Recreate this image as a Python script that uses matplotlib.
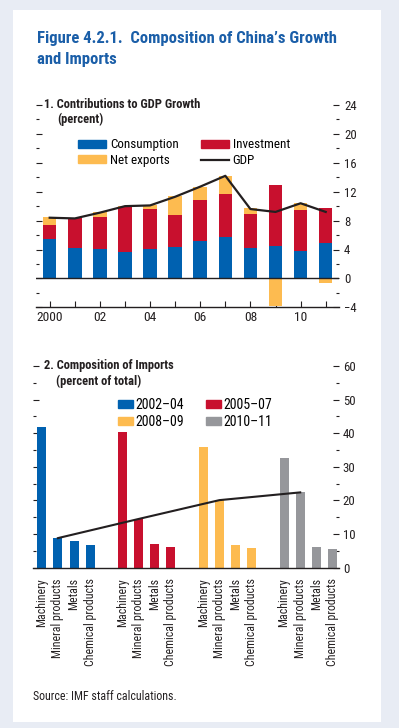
import matplotlib
matplotlib.use("Agg")
import matplotlib.pyplot as plt
from matplotlib.patches import Rectangle, Patch
from matplotlib.lines import Line2D
from matplotlib.ticker import MultipleLocator
from matplotlib import font_manager
from matplotlib.font_manager import FontProperties
import os

# ---------------- data ----------------
years = list(range(2000, 2012))
year_labels = ["2000", "", "02", "", "04", "", "06", "", "08", "", "10", ""]
consumption = [5.5, 4.2, 4.1, 3.6, 4.1, 4.4, 5.2, 5.7, 4.2, 4.5, 3.8, 4.9]
investment = [1.95, 4.1, 4.4, 6.3, 5.5, 4.4, 5.6, 6.0, 4.7, 8.4, 5.6, 4.9]
net_exports = [1.0, 0.0, 0.7, 0.1, 0.5, 2.6, 1.9, 2.5, 0.8, -3.8, 1.1, -0.6]
gdp = [8.4, 8.3, 9.1, 10.0, 10.1, 11.3, 12.7, 14.2, 9.6, 9.2, 10.4, 9.2]

periods = ["2002\u201304", "2005\u201307", "2008\u201309", "2010\u201311"]
products = ["Machinery", "Mineral products", "Metals", "Chemical products"]
machinery = [41.8, 40.4, 35.9, 32.6]
mineral = [8.8, 14.5, 20.1, 22.4]
metals = [7.9, 7.0, 6.8, 6.2]
chemical = [6.8, 6.2, 5.9, 5.6]

# ---------------- fonts ----------------
files = [f.fname for f in font_manager.fontManager.ttflist]


def find(keys_list):
    for keys in keys_list:
        for p in files:
            b = os.path.basename(p).lower()
            if all(k in b for k in keys[0]) and not any(k in b for k in keys[1]):
                return p
    return None


REG = find([(["liberationsansnarrow-regular"], []),
            (["robotocondensed-regular"], []),
            (["dejavusanscondensed."], []),
            (["dejavusanscondensed.ttf"], [])])
BOLD = find([(["liberationsansnarrow-bold."], ["italic"]),
             (["liberationsansnarrow-bold"], ["italic"]),
             (["robotocondensed-bold."], []),
             (["dejavusanscondensed-bold."], [])])
plt.rcParams["font.family"] = ["Liberation Sans", "DejaVu Sans"]


def fp(size, bold=False):
    path = BOLD if bold else REG
    if path:
        return FontProperties(fname=path, size=size)
    return FontProperties(family="Liberation Sans", size=size * 0.9,
                          weight="bold" if bold else "normal")


plt.rcParams["axes.unicode_minus"] = True

BLUE = "#0061b0"
RED = "#c8102e"
YELLOW = "#fdbb50"
GRAY = "#96979b"
BG = "#e8ecf4"
TXT = "#231f20"
TITLE_BLUE = "#1a5ea8"

W, H = 399, 728
fig = plt.figure(figsize=(W / 100, H / 100), dpi=100, facecolor=BG)
fig.patches.append(Rectangle((13 / W, 1 - 722 / H), (381 - 13) / W, (722 - 10) / H,
                             transform=fig.transFigure, facecolor="white",
                             edgecolor="none", zorder=-10))


def ftext(px, py, s, **kw):
    return fig.text(px / W, 1 - py / H, s, **kw)


ftext(37, 49.3, "Figure 4.2.1.  Composition of China\u2019s Growth\nand Imports",
      color=TITLE_BLUE, fontproperties=fp(12, True), va="center", ha="left",
      linespacing=1.5)


def ax_rect(l, r, t, b):
    return [l / W, 1 - b / H, (r - l) / W, (b - t) / H]


def style_axes(ax, pad):
    ax.set_facecolor("none")
    for s in ["left", "right", "top"]:
        ax.spines[s].set_visible(False)
    ax.spines["bottom"].set_color(TXT)
    ax.spines["bottom"].set_linewidth(1.0)
    ax.tick_params(axis="y", which="both", left=True, right=True, labelleft=False,
                   labelright=True, direction="in", colors=TXT, pad=pad)
    ax.tick_params(axis="y", which="major", length=4.3, width=0.8)
    ax.tick_params(axis="y", which="minor", length=2.4, width=0.8)


def set_tick_fonts(ax, ysize, xsize):
    for lab in ax.get_yticklabels():
        lab.set_fontproperties(fp(ysize))
        lab.set_color(TXT)
    for lab in ax.get_xticklabels():
        lab.set_fontproperties(fp(xsize))
        lab.set_color(TXT)


# ---------------- panel 1 ----------------
ax1 = fig.add_axes(ax_rect(36, 339, 105, 307.3))
style_axes(ax1, 3.6)
x = list(range(len(years)))
bw = 0.54
ax1.bar(x, consumption, bw, color=BLUE, zorder=2)
ax1.bar(x, investment, bw, bottom=consumption, color=RED, zorder=2)
nx_bottom = [c + i if n >= 0 else 0 for c, i, n in zip(consumption, investment, net_exports)]
ax1.bar(x, net_exports, bw, bottom=nx_bottom, color=YELLOW, zorder=2)
ax1.plot(x, gdp, color=TXT, lw=1.6, zorder=3)
ax1.axhline(0, color=TXT, lw=1.0, zorder=4)
ax1.set_ylim(-4, 24)
ax1.set_xlim(-0.546, 11.53)
ax1.yaxis.set_major_locator(MultipleLocator(4))
ax1.yaxis.set_minor_locator(MultipleLocator(2))
ax1.set_xticks(x)
ax1.set_xticklabels(year_labels)
ax1.tick_params(axis="x", direction="in", length=4, width=0.8, colors=TXT, pad=3)
set_tick_fonts(ax1, 9.2, 9.6)

ftext(43.5, 105, "1. Contributions to GDP Growth", fontproperties=fp(9, True),
      color=TXT, va="center", ha="left")
ftext(57, 119.5, "(percent)", fontproperties=fp(9, True),
      color=TXT, va="center", ha="left")

h1 = [Patch(color=BLUE), Patch(color=YELLOW), Patch(color=RED), Line2D([], [], color=TXT, lw=1.6)]
l1 = ["Consumption", "Net exports", "Investment", "GDP"]
ax1.legend(h1, l1, ncol=2, loc="upper left", bbox_to_anchor=(42 / 303, 0.835),
           frameon=False, prop=fp(9.4), handlelength=2.14, handleheight=0.55,
           handletextpad=0.3, columnspacing=1.7, labelspacing=0.2, borderpad=0,
           borderaxespad=0)

# ---------------- panel 2 ----------------
ax2 = fig.add_axes(ax_rect(33, 339.3, 366, 567.7))
style_axes(ax2, 2.5)
colors = [BLUE, RED, YELLOW, GRAY]
pos_all, lab_all = [], []
mineral_pos = []
bw2 = 0.56
for g in range(4):
    vals = [machinery[g], mineral[g], metals[g], chemical[g]]
    pos = [g * 5 + k for k in range(4)]
    ax2.bar(pos, vals, bw2, color=colors[g], zorder=2, label=periods[g])
    pos_all += pos
    lab_all += products
    mineral_pos.append(pos[1])
ax2.plot(mineral_pos, mineral, color=TXT, lw=1.5, zorder=3)
ax2.set_ylim(0, 60)
ax2.set_xlim(-0.54, 18.42)
ax2.yaxis.set_major_locator(MultipleLocator(10))
ax2.yaxis.set_minor_locator(MultipleLocator(5))
ax2.set_xticks(pos_all)
ax2.set_xticklabels(lab_all, rotation=90, va="top", ha="center")
ax2.tick_params(axis="x", length=0, colors=TXT, pad=7.5)
set_tick_fonts(ax2, 9.2, 8.6)

ftext(43.5, 366, "2. Composition of Imports", fontproperties=fp(9, True),
      color=TXT, va="center", ha="left")
ftext(56, 381.5, "(percent of total)", fontproperties=fp(9, True),
      color=TXT, va="center", ha="left")

h2 = [Patch(color=BLUE), Patch(color=YELLOW), Patch(color=RED), Patch(color=GRAY)]
l2 = [periods[0], periods[2], periods[1], periods[3]]
ax2.legend(h2, l2, ncol=2, loc="upper left", bbox_to_anchor=((117.7 - 33) / 306.3, 0.841),
           frameon=False, prop=fp(10), handlelength=1.08, handleheight=0.58,
           handletextpad=0.2, columnspacing=1.55, labelspacing=0.2, borderpad=0,
           borderaxespad=0)

ftext(33, 697, "Source: IMF staff calculations.", fontproperties=fp(8.6),
      color=TXT, va="center", ha="left")

fig.savefig("out.png", dpi=100, facecolor=BG)
